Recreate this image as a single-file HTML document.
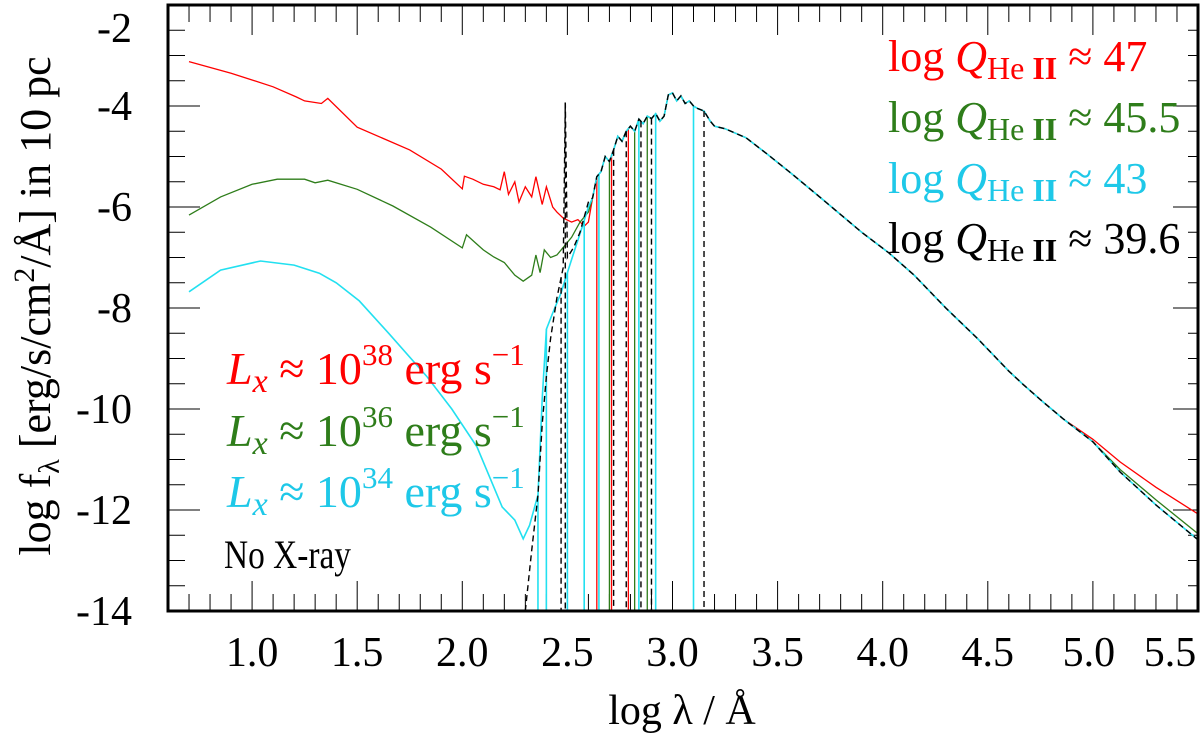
<!DOCTYPE html>
<html><head><meta charset="utf-8"><style>
html,body{margin:0;padding:0;background:#fff;}
svg{display:block;font-family:"Liberation Serif",serif;}
</style></head><body>
<svg id="chart" width="1200" height="735" viewBox="0 0 1200 735">
<rect x="0" y="0" width="1200" height="735" fill="#fff"/>
<defs><clipPath id="clip"><rect x="168" y="5" width="1030" height="606"/></clipPath></defs>
<g id="ticks"></g>
<g id="series" clip-path="url(#clip)"></g>
<rect x="168" y="5" width="1030" height="606" fill="none" stroke="#000" stroke-width="3"/>
<g id="labels" font-size="42"></g>
<text x="682" y="724" font-size="42" text-anchor="middle">log λ / Å</text>
<text transform="translate(50,306) rotate(-90)" font-size="44" text-anchor="middle">log f<tspan font-size="30" dy="9">λ</tspan><tspan dy="-9"> [erg/s/cm</tspan><tspan font-size="30" dy="-16">2</tspan><tspan dy="16">/Å] in 10 pc</tspan></text>
<g font-size="44">
<text x="888" y="71" fill="#ff0000">log <tspan font-style="italic">Q</tspan><tspan font-size="32" dy="8">He</tspan><tspan font-size="32" font-weight="bold"> II</tspan><tspan dy="-8"> ≈ 47</tspan></text>
<text x="888" y="132" fill="#2e7d1a">log <tspan font-style="italic">Q</tspan><tspan font-size="32" dy="8">He</tspan><tspan font-size="32" font-weight="bold"> II</tspan><tspan dy="-8"> ≈ 45.5</tspan></text>
<text x="888" y="193" fill="#1ec8e8">log <tspan font-style="italic">Q</tspan><tspan font-size="32" dy="8">He</tspan><tspan font-size="32" font-weight="bold"> II</tspan><tspan dy="-8"> ≈ 43</tspan></text>
<text x="888" y="253" fill="#000">log <tspan font-style="italic">Q</tspan><tspan font-size="32" dy="8">He</tspan><tspan font-size="32" font-weight="bold"> II</tspan><tspan dy="-8"> ≈ 39.6</tspan></text>
</g>
<g font-size="46">
<text x="227" y="384" fill="#ff0000"><tspan font-style="italic">L</tspan><tspan font-style="italic" font-size="34" dy="8">x</tspan><tspan dy="-8"> ≈ 10</tspan><tspan font-size="31" dy="-19">38</tspan><tspan dy="19"> erg s</tspan><tspan font-size="31" dy="-19">−1</tspan></text>
<text x="227" y="446" fill="#2e7d1a"><tspan font-style="italic">L</tspan><tspan font-style="italic" font-size="34" dy="8">x</tspan><tspan dy="-8"> ≈ 10</tspan><tspan font-size="31" dy="-19">36</tspan><tspan dy="19"> erg s</tspan><tspan font-size="31" dy="-19">−1</tspan></text>
<text x="227" y="507" fill="#1ec8e8"><tspan font-style="italic">L</tspan><tspan font-style="italic" font-size="34" dy="8">x</tspan><tspan dy="-8"> ≈ 10</tspan><tspan font-size="31" dy="-19">34</tspan><tspan dy="19"> erg s</tspan><tspan font-size="31" dy="-19">−1</tspan></text>
<text x="224" y="568" fill="#000" font-size="40" textLength="127" lengthAdjust="spacingAndGlyphs">No X-ray</text>
</g>
</svg>
<script>
// axis ranges
const xDomain = [0.6, 5.5];
const yDomain = [-14, -2];
const xTickLabels = ["1.0","1.5","2.0","2.5","3.0","3.5","4.0","4.5","5.0","5.5"];
const yTickLabels = ["-2","-4","-6","-8","-10","-12","-14"];

// shared hot-component spectrum (log lambda, log f)
const peakX = [2.62,2.64,2.66,2.68,2.70,2.72,2.74,2.76,2.78,2.80,2.82,2.84,2.86,2.88,2.90,2.92,2.94,2.96,2.98,3.00,3.02,3.04,3.06,3.08,3.10,3.12,3.15,3.18,3.20,3.25,3.35,3.45,3.57,3.70,3.80,3.90,4.03,4.15,4.30,4.45,4.60,4.67,4.76,4.86];
const peakY = [-5.82,-5.4,-5.3,-5.0,-5.1,-4.87,-4.6,-4.7,-4.5,-4.4,-4.5,-4.26,-4.35,-4.2,-4.25,-4.15,-4.3,-4.2,-3.78,-3.74,-3.9,-3.8,-3.95,-3.9,-4.0,-4.05,-4.1,-4.3,-4.4,-4.45,-4.63,-4.95,-5.35,-5.8,-6.15,-6.5,-6.91,-7.35,-8.0,-8.6,-9.25,-9.52,-9.85,-10.2];

// low-energy parts of each model
const redX = [0.70,0.90,1.10,1.21,1.25,1.33,1.36,1.50,1.75,1.90,2.00,2.01,2.05,2.10,2.15,2.18,2.20,2.22,2.25,2.27,2.30,2.33,2.35,2.38,2.40,2.43,2.45,2.48,2.52,2.55,2.58,2.60];
const redY = [-3.12,-3.35,-3.62,-3.82,-3.9,-3.95,-3.85,-4.42,-4.87,-5.25,-5.64,-5.39,-5.45,-5.55,-5.6,-5.66,-5.3,-5.75,-5.5,-5.9,-5.6,-5.8,-5.4,-5.95,-5.6,-6.0,-6.1,-6.22,-6.3,-6.25,-6.38,-6.3];
const greenX = [0.70,0.85,1.00,1.12,1.25,1.30,1.36,1.50,1.67,1.85,2.00,2.02,2.06,2.10,2.15,2.20,2.25,2.29,2.33,2.35,2.37,2.39,2.42,2.45,2.48,2.52,2.56,2.60];
const greenY = [-6.16,-5.8,-5.55,-5.45,-5.45,-5.52,-5.47,-5.65,-5.98,-6.4,-6.81,-6.55,-6.7,-6.85,-6.99,-7.1,-7.35,-7.47,-7.35,-6.95,-7.3,-6.85,-7.0,-6.95,-6.8,-6.6,-6.3,-6.1];
const cyanX = [0.70,0.85,1.04,1.20,1.32,1.40,1.51,1.65,1.83,1.95,2.07,2.19,2.25,2.29,2.32,2.36,2.38,2.40,2.43,2.47,2.50,2.53,2.57,2.60];
const cyanY = [-7.68,-7.25,-7.07,-7.15,-7.31,-7.5,-7.86,-8.5,-9.35,-10.0,-10.75,-11.94,-12.2,-12.57,-12.3,-11.7,-9.8,-8.42,-8.1,-7.7,-7.3,-6.91,-6.4,-6.0];
const blackX = [2.30,2.33,2.36,2.38,2.40,2.42,2.45,2.48,2.49,2.50,2.53,2.56,2.58,2.60];
const blackY = [-14,-12.8,-11.7,-10.3,-9.35,-8.6,-7.8,-7.2,-3.93,-7.0,-6.8,-6.5,-6.2,-5.9];

// high-energy tails beyond 4.86
const tailX = [5.00,5.13,5.30,5.50];
const redTailY = [-10.6,-11.05,-11.55,-12.08];
const greenTailY = [-10.65,-11.2,-11.8,-12.47];
const cyanTailY = [-10.65,-11.25,-11.9,-12.59];
const blackTailY = [-10.65,-11.25,-11.9,-12.59];

// absorption-edge dips reaching the floor
const redDips = [2.64,2.71,2.79];
const greenDips = [2.70,2.82,2.88];
const cyanDips = [2.36,2.40,2.50,2.58,2.65,2.84,2.92,3.10];
const blackDips = [2.47,2.49,2.72,2.78,2.85,2.90,3.15];

const X0=168, X1=1198, Y0=611, Y1=5;
function sx(v){return X0+(v-xDomain[0])/(xDomain[1]-xDomain[0])*(X1-X0);}
function sy(v){return Y0-(v-yDomain[0])/(yDomain[1]-yDomain[0])*(Y0-Y1);}
const NS="http://www.w3.org/2000/svg";
function mk(tag,attrs,parent){const e=document.createElementNS(NS,tag);for(const k in attrs)e.setAttribute(k,attrs[k]);parent.appendChild(e);return e;}

const ticks=document.getElementById('ticks');
const labels=document.getElementById('labels');
// x ticks
for(let i=0;i<=49;i++){
  const v=0.6+i*0.1; if(v>5.5001)break;
  const major=Math.abs(v*2-Math.round(v*2))<1e-6;
  const L=major?30:17; const x=sx(v);
  const t1=mk('line',{x1:x,x2:x,y1:Y0,y2:Y0-L,stroke:'#000','stroke-width':1},ticks);
  
  
  const t2=mk('line',{x1:x,x2:x,y1:Y1,y2:Y1+L,stroke:'#000','stroke-width':1},ticks);
  
  
}
xTickLabels.forEach((s,i)=>{
  let x=sx(parseFloat(s));
  if(i===xTickLabels.length-2)x-=4;
  if(i===xTickLabels.length-1)x-=28;
  const t=mk('text',{x:x,y:666,'text-anchor':'middle'},labels);
  t.textContent=s;
  
  
});
// y ticks
for(let v=-14;v<=-2.0001+0.5;v+=0.5){
  const major=Math.abs(v/2-Math.round(v/2))<1e-6;
  const L=major?32:17; const y=sy(v);
  const t1=mk('line',{x1:X0,x2:X0+L,y1:y,y2:y,stroke:'#000','stroke-width':1},ticks);
  
  
  const t2=mk('line',{x1:X1,x2:X1-(major?25:10),y1:y,y2:y,stroke:'#000','stroke-width':1},ticks);
  
  
}
yTickLabels.forEach((s,i)=>{
  let y=sy(parseFloat(s))+14;
  if(i===0)y+=23;
  const t=mk('text',{x:132,y:y,'text-anchor':'end'},labels);
  t.textContent=s;
  
  
});

const series=document.getElementById('series');
function draw(name,color,lowX,lowY,tailY,dips,dash,width){
  const xs=lowX.concat(peakX,tailX), ys=lowY.concat(peakY,tailY);
  let d='';
  xs.forEach((v,i)=>{d+=(i?'L':'M')+sx(v).toFixed(1)+','+sy(ys[i]).toFixed(1);});
  const p=mk('path',{d:d,fill:'none',stroke:color,'stroke-width':width,'stroke-dasharray':dash||'none'},series);
  
  
  dips.forEach(v=>{
    let top=yDomain[1];
    for(let i=0;i<xs.length-1;i++){if(v>=xs[i]&&v<=xs[i+1]){const f=(v-xs[i])/(xs[i+1]-xs[i]||1);top=ys[i]+f*(ys[i+1]-ys[i]);break;}}
    const l=mk('line',{x1:sx(v),x2:sx(v),y1:sy(top),y2:sy(yDomain[0]),stroke:color,'stroke-width':width,'stroke-dasharray':dash||'none'},series);
    
    
  });
}
draw('red','#ff0000',redX,redY,redTailY,redDips,null,1.3);
draw('green','#2e7d1a',greenX,greenY,greenTailY,greenDips,null,1.3);
draw('cyan','#22e0f0',cyanX,cyanY,cyanTailY,cyanDips,null,1.6);
draw('black','#000',blackX,blackY,blackTailY,blackDips,'6,4',1.4);
</script>
</body></html>
